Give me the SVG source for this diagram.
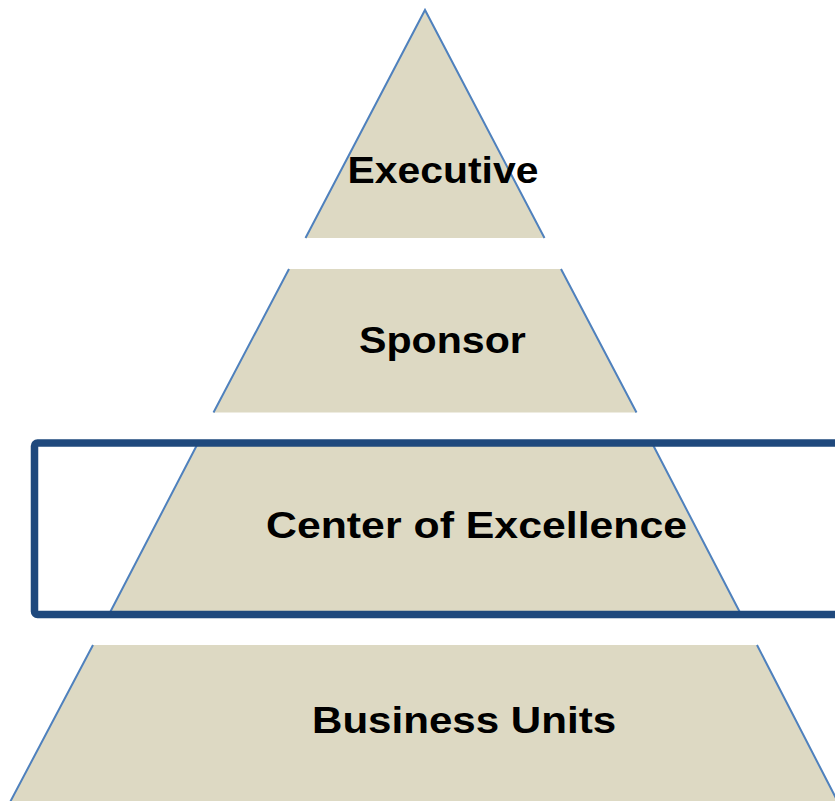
<svg xmlns="http://www.w3.org/2000/svg" width="835" height="801" viewBox="0 0 835 801">
<style>
.fill{fill:#DDD9C3;stroke:none}
.edge{fill:none;stroke:#4F81BD;stroke-width:2}
.lbl{font-family:"Liberation Sans",Arial,sans-serif;font-weight:bold;font-size:37px;fill:#000}
</style>
<rect width="835" height="801" fill="#fff"/>
<g id="tier-executive">
<polygon class="fill" points="425,10 305.5,238 544.5,238"/>
<polyline class="edge" points="305.5,238 425,10 544.5,238"/>
<text class="lbl" transform="translate(347.5,182.5) scale(1.12,1)" textLength="170.5" lengthAdjust="spacingAndGlyphs">Executive</text>
</g>
<g id="tier-sponsor">
<polygon class="fill" points="289,269 561,269 636.5,412.5 213.5,412.5"/>
<path class="edge" d="M289,269 L213.5,412.5 M561,269 L636.5,412.5"/>
<text class="lbl" transform="translate(359,352.5) scale(1.12,1)" textLength="149" lengthAdjust="spacingAndGlyphs">Sponsor</text>
</g>
<g id="tier-coe">
<polygon class="fill" points="198,443 652,443 739.5,611.5 110.5,611.5"/>
<path class="edge" d="M198,443 L110.5,611.5 M652,443 L739.5,611.5"/>
<text class="lbl" transform="translate(266,537.5) scale(1.12,1)" textLength="376" lengthAdjust="spacingAndGlyphs">Center of Excellence</text>
</g>
<g id="tier-business">
<polygon class="fill" points="93,645 757,645 840,806 8,806"/>
<path class="edge" d="M93,645 L8,806 M757,645 L840,806"/>
<text class="lbl" transform="translate(312,732.5) scale(1.12,1)" textLength="271.5" lengthAdjust="spacingAndGlyphs">Business Units</text>
</g>
<g id="highlight">
<rect x="34.5" y="443" width="830" height="171.5" rx="3" fill="none" stroke="#1F497D" stroke-width="7.5"/>
</g>
</svg>
